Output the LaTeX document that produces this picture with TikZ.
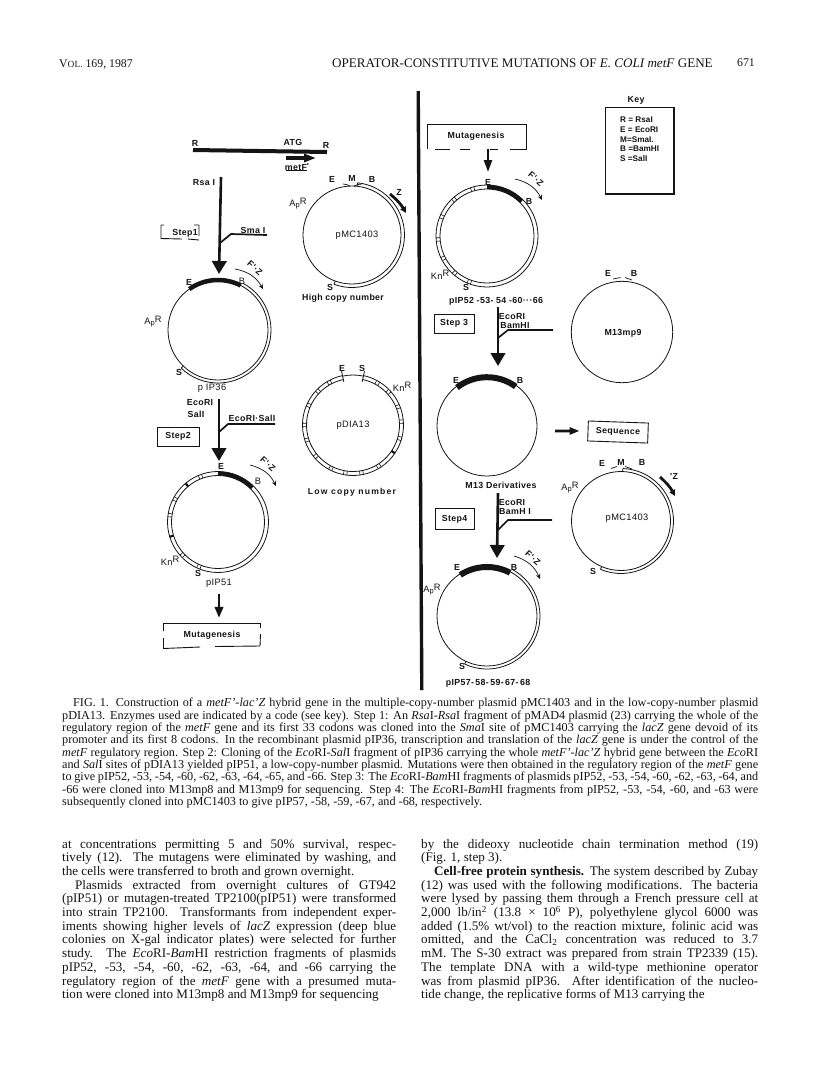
\documentclass[tikz,border=0pt]{standalone}
\usepackage{fontspec}
\setmainfont{Liberation Serif}
\newfontfamily\figfont[LetterSpace=4]{Liberation Sans}
\newfontfamily\keyfont{Liberation Sans}
\newfontfamily\widefont[LetterSpace=14]{Liberation Sans}
\usetikzlibrary{arrows.meta,calc}

\definecolor{ink}{gray}{0.08}

% A plain plasmid circle of radius #2 at centre #1
\newcommand{\ring}[2]{\draw[ringline] (#1) circle[radius=#2];}
% Concentric arc: centre, radius, from angle, to angle, style
\newcommand{\ringarc}[5]{\draw[#5] (#1) ++(#3:#2) arc[start angle=#3,end angle=#4,radius=#2];}
% Small square marks across a double ring: centre, inner r, outer r, list of angles
\newcommand{\ringmarks}[4]{\foreach \a in {#4}{%
  \draw[markline] (#1) ++(\a+2:#2) -- ++(\a+2:#3-#2);
  \draw[markline] (#1) ++(\a-2:#2) -- ++(\a-2:#3-#2);}}
% Same, but filled in
\newcommand{\ringdots}[4]{\foreach \a in {#4}{%
  \draw[line width=2.2pt,ink] (#1) ++(\a:#2) -- ++(\a:#3-#2);}}
\newcommand{\apr}{A\raisebox{-1.3pt}{\fontsize{7.5}{7.5}\selectfont p}\raisebox{1.8pt}{R}}
\newcommand{\knr}{Kn\raisebox{2.6pt}{R}}

\tikzset{
  x=1pt,y=1pt,
  ringline/.style={draw=ink,line width=0.8pt},
  markline/.style={draw=ink,line width=0.6pt},
  genearc/.style={draw=ink,line width=#1},
  flowarrow/.style={draw=ink,line width=2.6pt,-{Triangle[width=14.5pt,length=13pt]}},
  smallflow/.style={draw=ink,line width=2.4pt,-{Triangle[width=8.5pt,length=11pt]}},
  branch/.style={draw=ink,line width=1.7pt,line join=round},
  readarrow/.style={draw=ink,line width=0.7pt,-{Stealth[length=5pt,width=4.5pt]}},
  boldarrow/.style={draw=ink,line width=2.8pt,-{Triangle[length=6pt,width=6pt]}},
  framebox/.style={draw=ink,line width=0.9pt},
  lab/.style={inner sep=0pt,text=ink,font=\figfont\fontsize{9.3}{9.5}\selectfont},
  blab/.style={lab,font=\figfont\bfseries\fontsize{8.8}{9.5}\selectfont},
  widelab/.style={lab,font=\widefont\bfseries\fontsize{8.6}{9.5}\selectfont},
  keylab/.style={lab,anchor=west,font=\keyfont\bfseries\fontsize{8.2}{9.5}\selectfont},
  para/.style={inner sep=0pt,anchor=north west,text=ink,align=justify},
}

\begin{document}
\begin{tikzpicture}
\useasboundingbox (0,0) rectangle (816,-1080);
\fill[white] (0,0) rectangle (816,-1080);

% ---- running head ----
\node[inner sep=0pt,anchor=west,text=ink,font=\fontsize{11.8}{12}\selectfont] (headleft) at (59,-64) {V\fontsize{9.4}{12}\selectfont OL.\fontsize{11.8}{12}\selectfont{} 169, 1987};
\node[inner sep=0pt,anchor=west,text=ink,font=\fontsize{13.1}{12}\selectfont] (headmid) at (332,-63) {OPERATOR-CONSTITUTIVE MUTATIONS OF \textit{E. COLI metF} GENE};
\node[inner sep=0pt,anchor=east,text=ink,font=\fontsize{11.8}{12}\selectfont] (headpage) at (755,-63) {671};

% ---- column rule between the two halves of the scheme ----
\coordinate (ruletop) at (418.2,-91);
\coordinate (rulebot) at (421.8,-690);
\draw[ink,line width=3.4pt] (ruletop) -- (rulebot);

% ---- insert fragment ----
\coordinate (barl) at (193,-150);
\coordinate (barr) at (327,-152);
\draw[ink,line width=4pt] (barl) -- (barr);
\node[blab] (rl) at (195,-143) {R};
\node[blab] (atg) at (293,-142) {ATG};
\node[blab] (rr) at (326,-145) {R};
\coordinate (mfa) at (286,-158);
\coordinate (mfb) at (316,-158);
\draw[draw=ink,line width=3.2pt,-{Triangle[width=8pt,length=12pt]}] (mfa) -- (mfb);
\node[blab] (metf) at (297,-167) {metF\raisebox{1pt}{'}};
\draw[ink,line width=0.7pt] (286,-170) -- (307,-170);

% ---- step 1 ----
\node[blab] (rsai) at (204,-183) {Rsa I};
\coordinate (s1top) at (221,-177);
\coordinate (s1end) at (219,-274);
\draw[flowarrow] (s1top) -- (s1end);
\coordinate (s1join) at (220,-243);
\coordinate (s1knee) at (231,-234);
\coordinate (s1free) at (267,-235);
\draw[branch] (s1join) -- (s1knee) -- (s1free);
\node[blab,anchor=south] (smai) at (253,-234) {Sma I};
\node[blab] (step1) at (185,-233) {Step1};
\draw[framebox] (161,-225) -- (161,-238.5) -- (182,-239) (188,-239) -- (199,-240) (199,-236) -- (199,-225) (161,-225) -- (164,-225) (194,-225) -- (199,-225);

% ---- pMC1403 (upper) ----
\coordinate (pmca) at (352,-235);
\ring{pmca}{49}
\ringarc{pmca}{52.5}{84}{-110}{ringline}
\draw[ringline] (pmca) ++(84:49) -- ++(84:3.5);
\draw[ringline] (pmca) ++(-110:49) -- ++(-110:3.5);
\node[blab] (pmcaE) at (332,-179) {E};
\node[blab] (pmcaM) at (352,-178) {M};
\node[blab] (pmcaB) at (372,-179) {B};
\draw[ink,line width=0.7pt] (343,-184) to[bend left=12] (350,-186) (354,-186) to[bend left=12] (362,-184);
\node[lab] (pmcaAp) at (298,-204) {\apr};
\node[lab] (pmcaName) at (357,-235) {pMC1403};
\node[blab] (pmcaS) at (330,-287) {S};
\node[blab] (highcopy) at (343,-298.5) {High copy number};
\coordinate (pmcaZa) at (390,-194);
\coordinate (pmcaZb) at (406,-213);
\draw[boldarrow] (pmcaZa) to[bend left=10] (pmcaZb);
\node[blab] (pmcaZ) at (399,-192) {Z};

% ---- pIP36 ----
\coordinate (pa) at (218,-330);
\ring{pa}{50}
\ringarc{pa}{53}{62}{-134}{ringline}
\draw[ringline] (pa) ++(-134:50) -- ++(-134:3);
\ringarc{pa}{50}{125}{63}{genearc=4.5pt}
\node[blab] (paE) at (189,-282) {E};
\node[lab] (paB) at (242,-281) {B};
\node[lab] (paAp) at (153,-322) {\apr};
\node[blab] (paS) at (179,-372) {S};
\node[lab] (paName) at (212,-388) {p IP36};
\coordinate (paFa) at (235,-269);
\coordinate (paFb) at (263,-289);
\draw[readarrow] (paFa) to[bend left=25] (paFb);
\node[blab,rotate=-42] (paF) at (255,-268) {F'·Z};

% ---- step 2 ----
\node[blab] (s2e) at (200,-403) {EcoRI};
\node[blab] (s2s) at (196,-414) {SalI};
\coordinate (s2top) at (219,-399);
\coordinate (s2end) at (219,-461);
\draw[flowarrow] (s2top) -- (s2end);
\coordinate (s2join) at (219,-432);
\coordinate (s2knee) at (228,-424);
\coordinate (s2free) at (275,-424);
\draw[branch] (s2join) -- (s2knee) -- (s2free);
\node[blab] (s2lab) at (252,-418) {EcoRI·SalI};
\node[framebox,blab,minimum width=42pt,minimum height=19pt] (step2) at (178,-436.5) {Step2};

% ---- pDIA13 ----
\coordinate (pd) at (353,-425);
\ringarc{pd}{46.5}{102}{438}{ringline}
\ringarc{pd}{50.5}{102}{438}{ringline}
\ringarc{pd}{50}{102}{78}{ringline}
\draw[ringline] (pd) ++(102:44) -- ++(102:11);
\draw[ringline] (pd) ++(78:44) -- ++(78:11);
\ringmarks{pd}{46.5}{50.5}{119,136,156,180,198,220,243,261,280,302,344,4,22,43,60}
\ringdots{pd}{46.5}{50.5}{326}
\node[blab] (pdE) at (342,-368) {E};
\node[blab] (pdS) at (362,-368) {S};
\node[lab] (pdKn) at (402,-387) {\knr};
\node[lab] (pdName) at (353,-425) {pDIA13};
\node[widelab] (lowcopy) at (352,-492) {Low copy number};

% ---- pIP51 ----
\coordinate (pb) at (218,-522);
\ringarc{pb}{46.5}{0}{360}{ringline}
\ringarc{pb}{50.5}{0}{360}{ringline}
\ringmarks{pb}{46.5}{50.5}{111,152,172,223,247}
\ringdots{pb}{46.5}{50.5}{130,197}
\ringarc{pb}{48.5}{90}{45}{genearc=4pt}
\node[blab] (pbE) at (221,-466) {E};
\node[lab] (pbB) at (258,-481) {B};
\node[lab] (pbKn) at (170,-561) {\knr};
\node[blab] (pbS) at (198,-573) {S};
\node[lab] (pbName) at (219,-583) {pIP51};
\coordinate (pbFa) at (250,-465);
\coordinate (pbFb) at (276,-486);
\draw[readarrow] (pbFa) to[bend left=25] (pbFb);
\node[blab,rotate=-42] (pbF) at (268,-464) {F'·Z};

% ---- towards mutagenesis ----
\coordinate (mutA) at (219,-594);
\node[blab,minimum width=97pt,minimum height=25pt] (mutleft) at (212,-635.5) {Mutagenesis};
\draw[smallflow,shorten >=5pt] (mutA) -- (mutleft.north -| mutA);
\draw[framebox] (163.5,-623) -- (260.5,-623);
\draw[framebox] (163.5,-623) -- (163.5,-631) (163.5,-638) -- (163.5,-648.5) -- (200,-647) (215,-646.5) -- (260,-646) -- (260.5,-634) (260.5,-628) -- (260.5,-623);

% ---- mutagenesis, right half ----
\node[blab,minimum width=98pt,minimum height=25pt] (mutright) at (476,-136.5) {Mutagenesis};
\draw[framebox] (427,-124) -- (526,-124) -- (526,-149) -- (510,-149) (498,-149) -- (490,-149) (470,-149) -- (460,-149) (450,-149) -- (435,-149) (427,-149) -- (427,-124);
\coordinate (mutB) at (488,-172);
\draw[smallflow,-{Triangle[width=8pt,length=12pt]}] (mutright.south -| mutB) -- (mutB);

% ---- pIP52-... ----
\coordinate (pc) at (487,-236);
\ringarc{pc}{47}{0}{360}{ringline}
\ringarc{pc}{51}{0}{360}{ringline}
\ringmarks{pc}{47}{51}{107,132,157,184,207,229,249}
\ringarc{pc}{49}{90}{45}{genearc=4pt}
\node[blab] (pcE) at (488,-182) {E};
\node[blab] (pcB) at (529,-201) {B};
\node[lab] (pcKn) at (440,-275) {\knr};
\node[blab] (pcS) at (466,-287) {S};
\node[blab] (pcName) at (496,-301) {pIP52 -53- 54 -60···66};
\coordinate (pcFa) at (515,-179);
\coordinate (pcFb) at (542,-200);
\draw[readarrow] (pcFa) to[bend left=25] (pcFb);
\node[blab,rotate=-42] (pcF) at (536,-179) {F'·Z};

% ---- step 3 ----
\node[framebox,blab,minimum width=40pt,minimum height=19pt] (step3) at (454,-323.5) {Step 3};
\coordinate (s3top) at (498,-307);
\coordinate (s3end) at (498,-366);
\draw[flowarrow] (s3top) -- (s3end);
\node[blab] (s3e) at (512,-317) {EcoRI};
\coordinate (s3join) at (498,-338);
\coordinate (s3knee) at (508,-330);
\coordinate (s3free) at (553,-330);
\draw[branch] (s3join) -- (s3knee) -- (s3free);
\node[blab] (s3b) at (515,-326) {BamHI};

% ---- M13mp9 ----
\coordinate (pe) at (622,-332);
\ring{pe}{50.7}
\node[blab] (peE) at (608,-273) {E};
\node[blab] (peB) at (634,-273) {B};
\draw[ink,line width=0.7pt] (613,-279) -- (620.5,-277.5) (625,-277.5) -- (632,-280);
\node[blab] (peName) at (623,-333) {M13mp9};

% ---- M13 derivatives ----
\coordinate (pf) at (487,-426);
\ring{pf}{50}
\ringarc{pf}{48.8}{128}{54}{genearc=6pt}
\node[blab] (pfE) at (456,-380) {E};
\node[blab] (pfB) at (520,-380) {B};
\node[blab] (pfName) at (501,-485) {M13 Derivatives};
\node[framebox,blab,rotate=-2,minimum width=60pt,minimum height=20pt] (seq) at (618,-432) {Sequence};
\coordinate (seqA) at (555,-431);
\draw[draw=ink,line width=2.6pt,-{Triangle[width=7pt,length=10pt]},shorten >=8pt] (seqA) -- (seq.west);

% ---- step 4 ----
\node[framebox,blab,minimum width=39pt,minimum height=21pt] (step4) at (454.5,-519) {Step4};
\coordinate (s4top) at (498,-493);
\coordinate (s4end) at (497,-558);
\draw[flowarrow] (s4top) -- (s4end);
\node[blab] (s4e) at (512,-503) {EcoRI};
\coordinate (s4join) at (498,-530);
\coordinate (s4knee) at (508,-520);
\coordinate (s4free) at (552,-520);
\draw[branch] (s4join) -- (s4knee) -- (s4free);
\node[blab] (s4b) at (515,-512) {BamH I};

% ---- pMC1403 (lower) ----
\coordinate (pg) at (621,-521);
\ring{pg}{49.5}
\ringarc{pg}{52.5}{88}{-113}{ringline}
\draw[ringline] (pg) ++(88:49.5) -- ++(88:3);
\draw[ringline] (pg) ++(-113:49.5) -- ++(-113:3);
\node[blab] (pgE) at (602,-463) {E};
\node[blab] (pgM) at (621,-462) {M};
\node[blab] (pgB) at (642,-462) {B};
\draw[ink,line width=0.7pt] (611,-468.5) -- (617,-466.5) (625,-466.5) -- (632,-469);
\node[lab] (pgAp) at (570,-488) {\apr};
\node[lab] (pgName) at (627,-518) {pMC1403};
\node[blab] (pgS) at (593,-571) {S};
\coordinate (pgZa) at (660,-477);
\coordinate (pgZb) at (675,-496);
\draw[boldarrow] (pgZa) to[bend left=10] (pgZb);
\node[blab] (pgZ) at (674,-476) {'Z};

% ---- pIP57-... ----
\coordinate (ph) at (487,-616);
\ring{ph}{50}
\ringarc{ph}{53}{62}{-115}{ringline}
\draw[ringline] (ph) ++(-115:50) -- ++(-115:3);
\ringarc{ph}{49}{123}{62}{genearc=6pt}
\node[blab] (phE) at (457,-567) {E};
\node[blab] (phB) at (514,-567) {B};
\node[lab] (phAp) at (432,-590) {\apr};
\node[blab] (phS) at (462,-666) {S};
\node[blab] (phName) at (488,-683) {pIP57-\,58-\,59-\,67-\,68};
\coordinate (phFa) at (514,-556);
\coordinate (phFb) at (540,-579);
\draw[readarrow] (phFa) to[bend left=25] (phFb);
\node[blab,rotate=-42] (phF) at (533,-558) {F'·Z};

% ---- key ----
\node[blab] (keyhead) at (636,-100) {Key};
\draw[ink,line width=1.5pt] (605.5,-107.5) rectangle (674,-194);
\node[keylab] (k1) at (620,-120) {R = RsaI};
\node[keylab] (k2) at (620,-130) {E = EcoRI};
\node[keylab] (k3) at (620,-139.5) {M=SmaI.};
\node[keylab] (k4) at (620,-149) {B =BamHI};
\node[keylab] (k5) at (620,-159) {S =SalI};

% ---- figure legend ----
\node[para,text width=696pt,font=\fontsize{12.2}{12.33}\selectfont] (legend) at (62,-698) {\sloppy\hspace*{11pt}FIG. 1. Construction of a \textit{metF'-lac'Z} hybrid gene in the multiple-copy-number plasmid pMC1403 and in the low-copy-number plasmid\linebreak
pDIA13. Enzymes used are indicated by a code (see key). Step 1: An \textit{Rsa}I-\textit{Rsa}I fragment of pMAD4 plasmid (23) carrying the whole of the\linebreak
regulatory region of the \textit{metF} gene and its first 33 codons was cloned into the \textit{Sma}I site of pMC1403 carrying the \textit{lacZ} gene devoid of its\linebreak
promoter and its first 8 codons. In the recombinant plasmid pIP36, transcription and translation of the \textit{lacZ} gene is under the control of the\linebreak
\textit{metF} regulatory region. Step 2: Cloning of the \textit{Eco}RI-\textit{Sal}I fragment of pIP36 carrying the whole \textit{metF'-lac'Z} hybrid gene between the \textit{Eco}RI\linebreak
and \textit{Sal}I sites of pDIA13 yielded pIP51, a low-copy-number plasmid. Mutations were then obtained in the regulatory region of the \textit{metF} gene\linebreak
to give pIP52, -53, -54, -60, -62, -63, -64, -65, and -66. Step 3: The \textit{Eco}RI-\textit{Bam}HI fragments of plasmids pIP52, -53, -54, -60, -62, -63, -64, and\linebreak
-66 were cloned into M13mp8 and M13mp9 for sequencing. Step 4: The \textit{Eco}RI-\textit{Bam}HI fragments from pIP52, -53, -54, -60, and -63 were\linebreak
subsequently cloned into pMC1403 to give pIP57, -58, -59, -67, and -68, respectively.\par};

% ---- body text, left column ----
\node[para,text width=334pt,font=\fontsize{13.1}{13.67}\selectfont] (bodyleft) at (62,-839) {\sloppy at concentrations permitting 5 and 50\% survival, respec-\linebreak
tively (12). The mutagens were eliminated by washing, and\linebreak
the cells were transferred to broth and grown overnight.\par
\hspace*{13pt}Plasmids extracted from overnight cultures of GT942\linebreak
(pIP51) or mutagen-treated TP2100(pIP51) were transformed\linebreak
into strain TP2100. Transformants from independent exper-\linebreak
iments showing higher levels of \textit{lacZ} expression (deep blue\linebreak
colonies on X-gal indicator plates) were selected for further\linebreak
study. The \textit{Eco}RI-\textit{Bam}HI restriction fragments of plasmids\linebreak
pIP52, -53, -54, -60, -62, -63, -64, and -66 carrying the\linebreak
regulatory region of the \textit{metF} gene with a presumed muta-\linebreak
tion were cloned into M13mp8 and M13mp9 for sequencing\par};

% ---- body text, right column ----
\node[para,text width=337pt,font=\fontsize{13.1}{13.67}\selectfont] (bodyright) at (421,-839) {\sloppy by the dideoxy nucleotide chain termination method (19)\linebreak
(Fig. 1, step 3).\par
\hspace*{13pt}\textbf{Cell-free protein synthesis.} The system described by Zubay\linebreak
(12) was used with the following modifications. The bacteria\linebreak
were lysed by passing them through a French pressure cell at\linebreak
2,000 lb/in\textsuperscript{2} (13.8 × 10\textsuperscript{6} P), polyethylene glycol 6000 was\linebreak
added (1.5\% wt/vol) to the reaction mixture, folinic acid was\linebreak
omitted, and the CaCl\textsubscript{2} concentration was reduced to 3.7\linebreak
mM. The S-30 extract was prepared from strain TP2339 (15).\linebreak
The template DNA with a wild-type methionine operator\linebreak
was from plasmid pIP36. After identification of the nucleo-\linebreak
tide change, the replicative forms of M13 carrying the\par};

\end{tikzpicture}
\end{document}
